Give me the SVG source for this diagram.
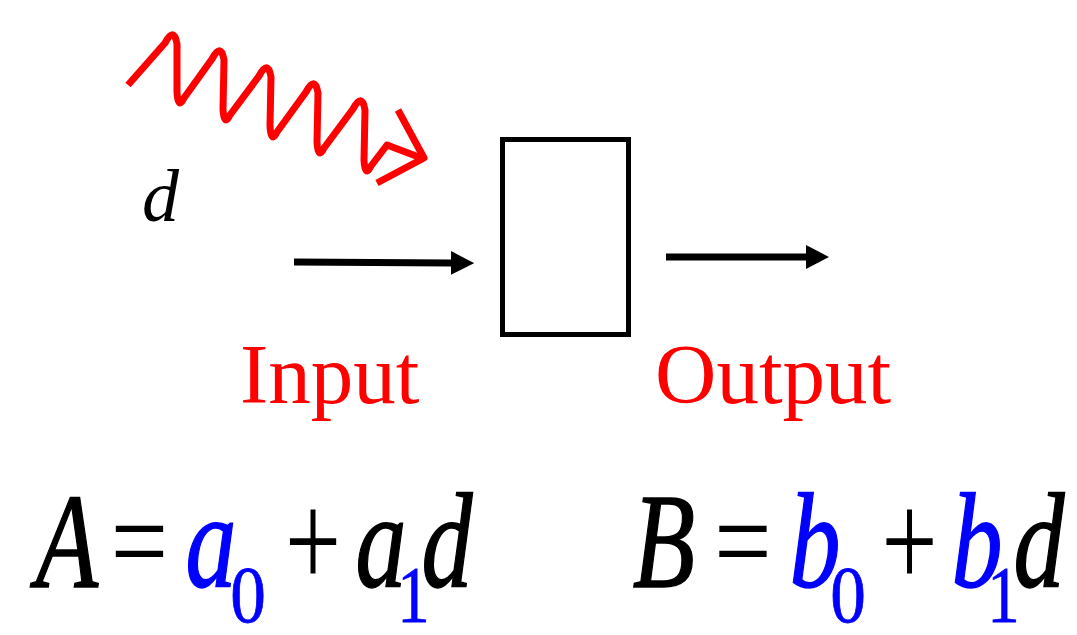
<svg xmlns="http://www.w3.org/2000/svg" width="1077" height="635" viewBox="0 0 1077 635">
<style>
.wave{fill:none;stroke:#ff0000;stroke-width:7;stroke-linejoin:round}
.conn{stroke:#000;stroke-width:7;fill:none}
.box{fill:#fff;stroke:#000;stroke-width:5}
.lbl{font-family:"Liberation Serif",serif;fill:#ff0000;font-size:85px}
.it{font-family:"Liberation Serif",serif;font-style:italic;font-size:136px;text-anchor:middle;stroke-width:1.5}
.eq{font-family:"Liberation Serif",serif;font-size:124px;text-anchor:middle}
.pl{font-family:"Liberation Serif",serif;font-size:138px;text-anchor:middle}
.sub{font-family:"Liberation Serif",serif;font-size:81px;text-anchor:middle;stroke-width:0.8}
.k{fill:#000}.b{fill:#0000ff}
.it.k,.sub.k{stroke:#000}.it.b,.sub.b{stroke:#0000ff}
</style>
<defs>
<marker id="ah" viewBox="0 0 10 10" refX="0" refY="5" markerWidth="3.3" markerHeight="3.4" markerUnits="strokeWidth" orient="auto" preserveAspectRatio="none">
<path d="M0,0 L10,5 L0,10 Z" fill="#000"/>
</marker>
</defs>
<g id="disturbance">
<path class="wave" d="M128,85 L165,43 Q174,26 177,44 L177,92 Q178,110 184,98 L212,59 Q221,42 224,60 L223,109 Q224,127 230,115 L259,76 Q268,59 271,77 L270,126 Q271,144 277,132 L306,92 Q315,75 318,93 L317,142 Q318,160 324,148 L353,109 Q362,92 365,110 L364,160 Q365,178 371,166 L387,145 L424,159"/>
<path class="wave" d="M398,110 L424,158 L377,183"/>
<text x="142" y="221" style="font-family:'Liberation Serif',serif;font-style:italic;font-size:74px" fill="#000">d</text>
</g>
<g id="block">
<rect class="box" x="502.5" y="139.5" width="126" height="195"/>
</g>
<g id="connectors">
<line class="conn" x1="294" y1="262" x2="451" y2="263" marker-end="url(#ah)"/>
<line class="conn" x1="666" y1="257" x2="806" y2="257" marker-end="url(#ah)"/>
</g>
<g id="labels">
<text class="lbl" x="240" y="403">Input</text>
<text class="lbl" x="655" y="403">Output</text>
</g>
<g id="eqA">
<text class="it k" transform="translate(67,587) scale(0.75,1)">A</text>
<text class="eq k" transform="translate(139.5,583) scale(0.82,1)">=</text>
<text class="it b" transform="translate(211,587) scale(0.75,1)">a</text>
<text class="sub b" transform="translate(248,622) scale(0.88,1)">0</text>
<text class="pl k" transform="translate(313,587) scale(0.72,1)">+</text>
<text class="it k" transform="translate(381,587) scale(0.75,1)">a</text>
<text class="sub b" transform="translate(413.5,622) scale(0.8,1)">1</text>
<text class="it k" transform="translate(447,587) scale(0.75,1)">d</text>
</g>
<g id="eqB">
<text class="it k" transform="translate(664,587) scale(0.75,1)">B</text>
<text class="eq k" transform="translate(743,583) scale(0.82,1)">=</text>
<text class="it b" transform="translate(815,587) scale(0.75,1)">b</text>
<text class="sub b" transform="translate(848,622) scale(0.88,1)">0</text>
<text class="pl k" transform="translate(909.5,587) scale(0.72,1)">+</text>
<text class="it b" transform="translate(977,587) scale(0.75,1)">b</text>
<text class="sub b" transform="translate(1003.5,622) scale(0.8,1)">1</text>
<text class="it k" transform="translate(1039,587) scale(0.75,1)">d</text>
</g>
</svg>
